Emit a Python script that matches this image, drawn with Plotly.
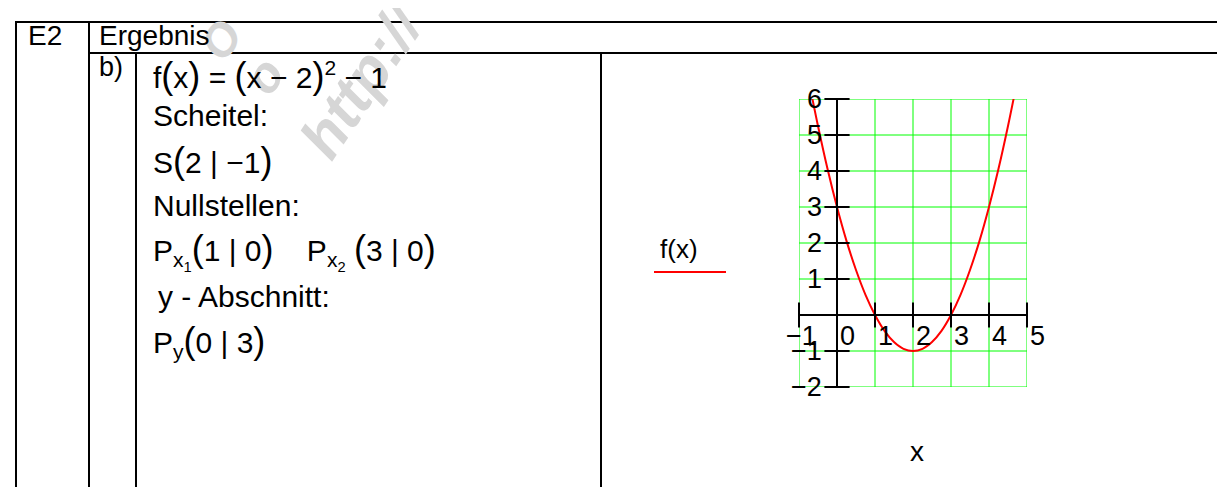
import plotly.graph_objects as go

# ---- data ----
curve_x = [-0.65, -0.5, -0.25, 0.0, 0.25, 0.5, 0.75, 1.0, 1.25, 1.5, 1.75, 2.0,
           2.25, 2.5, 2.75, 3.0, 3.25, 3.5, 3.75, 4.0, 4.25, 4.5, 4.65]
curve_y = [6.02, 5.25, 4.06, 3.0, 2.06, 1.25, 0.56, 0.0, -0.44, -0.75, -0.94, -1.0,
           -0.94, -0.75, -0.44, 0.0, 0.56, 1.25, 2.06, 3.0, 4.06, 5.25, 6.02]
x_ticks = [-1, 0, 1, 2, 3, 4, 5]
y_ticks = [-2, -1, 0, 1, 2, 3, 4, 5, 6]
x_tick_labels = ["\u22121", "0", "1", "2", "3", "4", "5"]
y_tick_labels = ["\u22122", "\u22121", "", "1", "2", "3", "4", "5", "6"]

W, H = 1225, 487
FONT = "Liberation Sans, Arial, sans-serif"
GREEN = "#00ff00"


def px(x):
    return x / W


def py(y):
    return 1 - y / H


fig = go.Figure()

# function curve
fig.add_trace(go.Scatter(x=curve_x, y=curve_y, mode="lines",
                         line=dict(color="#ff0000", width=2, shape="spline"),
                         showlegend=False, hoverinfo="skip"))
# tick marks crossing the axes
fig.add_trace(go.Scatter(x=x_ticks, y=[0] * len(x_ticks), mode="markers",
                         marker=dict(symbol="line-ns", size=18,
                                     line=dict(color="black", width=2)),
                         cliponaxis=False, showlegend=False, hoverinfo="skip"))
fig.add_trace(go.Scatter(x=[0] * len(y_ticks), y=y_ticks, mode="markers",
                         marker=dict(symbol="line-ew", size=18,
                                     line=dict(color="black", width=2)),
                         cliponaxis=False, showlegend=False, hoverinfo="skip"))

shapes = []
# green grid
for v in x_ticks:
    shapes.append(dict(type="line", xref="x", yref="y", x0=v, x1=v,
                       y0=y_ticks[0], y1=y_ticks[-1],
                       line=dict(color=GREEN, width=1), layer="below"))
for v in y_ticks:
    shapes.append(dict(type="line", xref="x", yref="y", y0=v, y1=v,
                       x0=x_ticks[0], x1=x_ticks[-1],
                       line=dict(color=GREEN, width=1), layer="below"))
# axes (black)
shapes.append(dict(type="line", xref="x", yref="y", x0=-1, x1=5, y0=0, y1=0,
                   line=dict(color="black", width=2)))
shapes.append(dict(type="line", xref="x", yref="y", x0=0, x1=0, y0=-2, y1=6,
                   line=dict(color="black", width=2)))


# table lines
def hline(y, x0, x1):
    shapes.append(dict(type="line", xref="paper", yref="paper",
                       x0=px(x0), x1=px(x1), y0=py(y), y1=py(y),
                       line=dict(color="black", width=2)))


def vline(x, y0, y1):
    shapes.append(dict(type="line", xref="paper", yref="paper",
                       x0=px(x), x1=px(x), y0=py(y0), y1=py(y1),
                       line=dict(color="black", width=2)))


HDR = 45
hline(14, 7, W + 5)
hline(HDR, 81, W + 5)
vline(8, 13, H + 5)
vline(81, 13, H + 5)
vline(128, HDR, H + 5)
vline(593, HDR, H + 5)

# legend line
shapes.append(dict(type="line", xref="paper", yref="paper",
                   x0=px(646), x1=px(718), y0=py(264), y1=py(264),
                   line=dict(color="#ff0000", width=2)))

annotations = []


def text(x, y, s, size=30, anchor="left", color="black"):
    annotations.append(dict(xref="paper", yref="paper", x=px(x), y=py(y),
                            text=s, showarrow=False, xanchor=anchor,
                            yanchor="middle",
                            font=dict(family=FONT, size=size, color=color)))


# watermark
WMC = "#d6d6d6"


def mark(x, y, s, size):
    annotations.append(dict(xref="paper", yref="paper", x=px(x), y=py(y),
                            text="<b><i>%s</i></b>" % s, showarrow=False,
                            xanchor="center", yanchor="middle", textangle=-56,
                            font=dict(family=FONT, size=size, color=WMC)))


mark(355, 72, "http://", 60)
mark(213, 32, "O", 46)
mark(256, 68, "o", 50)

BIG = '<span style="font-size:36px">%s</span>'
L, R = BIG % "(", BIG % ")"

text(18, 28, "E2", 28)
text(89, 28, "Ergebnis", 28)
text(89, 59, "b)", 27)
text(143, 68, "f" + L + "x" + R + " = " + L + "x \u2212 2" + R + "<sup>2</sup> \u2212 1")
text(143, 108, "Scheitel:")
text(143, 153, "S" + L + "2 | \u22121" + R)
text(143, 198, "Nullstellen:")
text(143, 243, "P<sub>x<sub>1</sub></sub>" + L + "1 | 0" + R +
     "    P<sub>x<sub>2</sub></sub> " + L + "3 | 0" + R)
text(148, 288, "y - Abschnitt:")
text(143, 333, "P<sub>y</sub>" + L + "0 | 3" + R)

# chart texts
text(671, 241, "f(x)", 26, anchor="center")
text(909, 443, "x", 28, anchor="center")

for v, lab in zip(y_ticks, y_tick_labels):
    if lab:
        annotations.append(dict(xref="x", yref="y", x=0, y=v, text=lab,
                                showarrow=False, xanchor="right", yanchor="middle",
                                xshift=-13, font=dict(family=FONT, size=27, color="black")))
for v, lab in zip(x_ticks, x_tick_labels):
    shift = -15 if lab.startswith("\u2212") else 1
    annotations.append(dict(xref="x", yref="y", x=v, y=0, text=lab,
                            showarrow=False, xanchor="left", yanchor="middle",
                            xshift=shift, yshift=-21,
                            font=dict(family=FONT, size=27, color="black")))

fig.update_layout(
    width=W, height=H,
    margin=dict(l=0, r=0, t=0, b=0),
    paper_bgcolor="white", plot_bgcolor="white",
    showlegend=False,
    shapes=shapes, annotations=annotations,
    xaxis=dict(domain=[791 / W, 1019 / W], range=[-1, 5],
               showgrid=False, zeroline=False, showline=False,
               showticklabels=False, ticks=""),
    yaxis=dict(domain=[(H - 379) / H, (H - 91) / H], range=[-2, 6],
               showgrid=False, zeroline=False, showline=False,
               showticklabels=False, ticks=""),
)

fig.write_html("out.html")
